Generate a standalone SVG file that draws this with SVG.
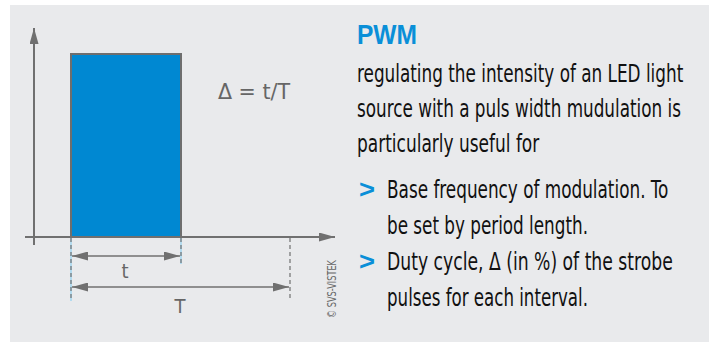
<svg xmlns="http://www.w3.org/2000/svg" width="716" height="343" viewBox="0 0 716 343">
  <defs>
    <style>
      .axis { stroke: #707070; stroke-width: 2; fill: none; }
      .dim { stroke: #707070; stroke-width: 1.6; fill: none; }
      .guide { stroke: #707070; stroke-width: 1.2; stroke-dasharray: 4 3; fill: none; }
      .guide-bg { stroke: #8fd0f2; stroke-width: 1.2; fill: none; }
      .lbl { font-family: "DejaVu Sans Condensed", "DejaVu Sans", sans-serif; font-stretch: condensed; fill: #666666; }
      .body { font-family: "DejaVu Sans Condensed", "DejaVu Sans", sans-serif; font-stretch: condensed; font-size: 25px; fill: #111111; }
      .bullet { font-family: "Liberation Sans", sans-serif; font-weight: bold; font-size: 26px; fill: #0a8fd8; }
      .title { font-family: "Liberation Sans", sans-serif; font-weight: bold; font-size: 28px; fill: #0a8fd8; }
    </style>
    <marker id="ah" viewBox="0 0 16 9" refX="16" refY="4.5" markerWidth="16" markerHeight="9" markerUnits="userSpaceOnUse" orient="auto-start-reverse">
      <path d="M0,0 L16,4.5 L0,9 Z" fill="#707070"/>
    </marker>
  </defs>

  <!-- panel -->
  <rect x="10" y="5" width="699" height="337" fill="#e9eaec"/>

  <!-- pulse -->
  <g id="pulse">
    <rect x="71" y="54" width="110" height="183" fill="#0088d2" stroke="#6e6e6e" stroke-width="2"/>
  </g>

  <!-- axes, guides and dimension lines -->
  <g id="connectors">
    <line class="axis" x1="34" y1="245" x2="34" y2="28" marker-end="url(#ah)"/>
    <line class="axis" x1="25" y1="237" x2="335" y2="237" marker-end="url(#ah)"/>
    <line class="guide-bg" x1="71" y1="238" x2="71" y2="301"/>
    <line class="guide" x1="71" y1="238" x2="71" y2="301"/>
    <line class="guide-bg" x1="181" y1="238" x2="181" y2="264"/>
    <line class="guide" x1="181" y1="238" x2="181" y2="264"/>
    <line class="guide" x1="290" y1="238" x2="290" y2="301"/>
    <line class="dim" x1="72" y1="256" x2="180" y2="256" marker-start="url(#ah)" marker-end="url(#ah)"/>
    <line class="dim" x1="72" y1="287" x2="289" y2="287" marker-start="url(#ah)" marker-end="url(#ah)"/>
  </g>

  <!-- labels -->
  <g id="labels">
    <text class="lbl" x="125" y="278" font-size="20" text-anchor="middle">t</text>
    <text class="lbl" x="180" y="313" font-size="20" text-anchor="middle">T</text>
    <text class="lbl" x="218" y="99" font-size="22" textLength="72" lengthAdjust="spacingAndGlyphs">Δ = t/T</text>
    <text class="lbl" transform="translate(336,289) rotate(-90)" font-size="12" text-anchor="middle" textLength="58" lengthAdjust="spacingAndGlyphs">© SVS-VISTEK</text>
  </g>

  <!-- description, condensed horizontally -->
  <g id="description">
    <text class="title" x="357" y="44" textLength="60" lengthAdjust="spacingAndGlyphs">PWM</text>
    <g transform="translate(357,0) scale(0.75,1)">
      <text class="body" x="0" y="82" textLength="435" lengthAdjust="spacingAndGlyphs">regulating the intensity of an LED light</text>
      <text class="body" x="0" y="117" textLength="432" lengthAdjust="spacingAndGlyphs">source with a puls width mudulation is</text>
      <text class="body" x="0" y="152" textLength="243" lengthAdjust="spacingAndGlyphs">particularly useful for</text>
    </g>
    <text class="bullet" x="359" y="198" textLength="16" lengthAdjust="spacingAndGlyphs">&gt;</text>
    <text class="bullet" x="359" y="270" textLength="16" lengthAdjust="spacingAndGlyphs">&gt;</text>
    <g transform="translate(387,0) scale(0.75,1)">
      <text class="body" x="0" y="198" textLength="375" lengthAdjust="spacingAndGlyphs">Base frequency of modulation. To</text>
      <text class="body" x="0" y="234" textLength="268" lengthAdjust="spacingAndGlyphs">be set by period length.</text>
      <text class="body" x="0" y="270" textLength="381" lengthAdjust="spacingAndGlyphs">Duty cycle, Δ (in %) of the strobe</text>
      <text class="body" x="0" y="306" textLength="268" lengthAdjust="spacingAndGlyphs">pulses for each interval.</text>
    </g>
  </g>
</svg>
